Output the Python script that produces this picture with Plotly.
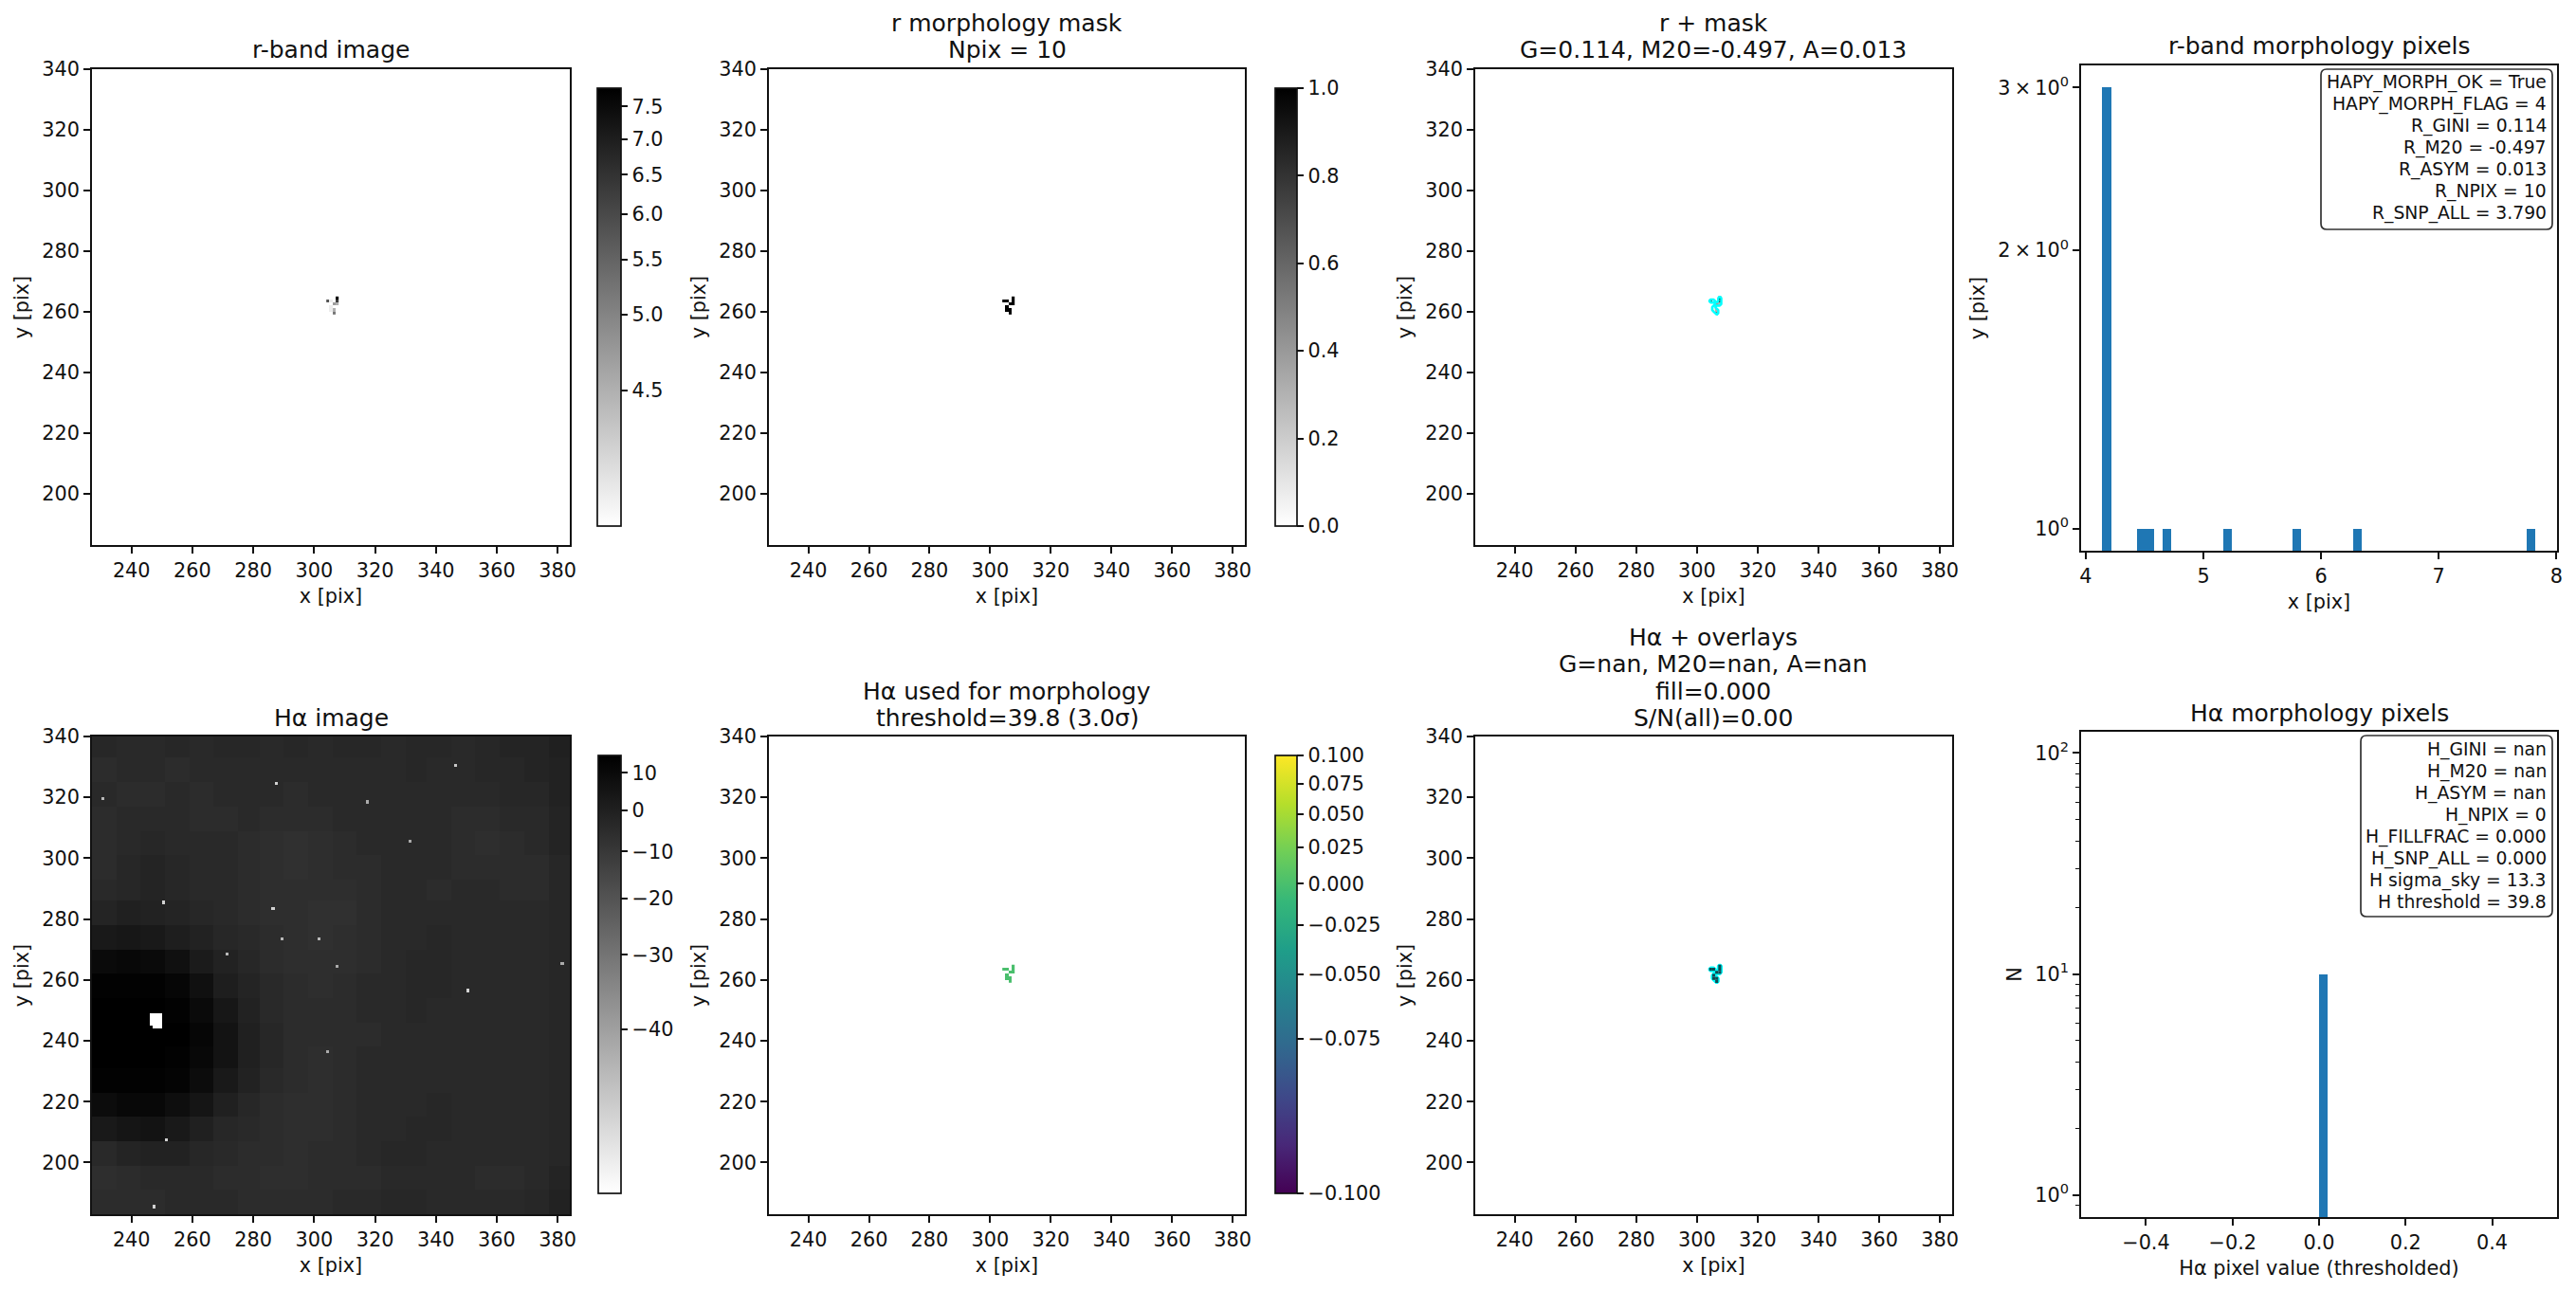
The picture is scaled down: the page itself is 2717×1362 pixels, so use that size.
import numpy as np
import plotly.graph_objects as go

W, H = 2717, 1362
FONT = "DejaVu Sans"

# morphology pixels (cell centres), rows listed top to bottom
pix_x = [304.5, 305.5, 306.5, 307.5]
pix_y = [264.5, 263.5, 262.5, 261.5, 260.5, 259.5]
r_values = [
    [None, None, None, 7.8],
    [5.8, 4.17, None, 6.3],
    [None, None, 4.7, 4.52],
    [None, 4.17, None, None],
    [None, 4.17, 4.5, None],
    [None, None, 5.2, None],
]
mask_values = [
    [None, None, None, 1],
    [1, 1, None, 1],
    [None, None, 1, 1],
    [None, 1, None, None],
    [None, 1, 1, None],
    [None, None, 1, None],
]
ha_mask_values = [[None if v is None else 0 for v in row] for row in mask_values]

# Halpha image: local mean level per 8-pixel block, top row first (the pixel noise is not readable)
ha_blocks = [
    [-3, -4, -4, -3, -4, -3, -3, -4, -3, -4, -3, -3, -4, -3, -3, -4, -3, -2, -2, 0],
    [-5, -4, -4, -5, -4, -4, -4, -4, -4, -4, -4, -4, -4, -3, -4, -4, -3, -3, -2, -1],
    [-4, -5, -5, -4, -5, -4, -4, -4, -5, -4, -4, -4, -4, -4, -4, -4, -4, -3, -3, -1],
    [-5, -4, -4, -4, -5, -5, -4, -5, -5, -5, -4, -4, -4, -4, -4, -5, -5, -4, -4, -2],
    [-5, -4, -3, -4, -4, -4, -5, -6, -7, -6, -5, -4, -4, -4, -4, -5, -6, -5, -4, -2],
    [-5, -3, -2, -3, -4, -4, -5, -6, -7, -6, -5, -5, -4, -4, -4, -5, -5, -5, -5, -3],
    [-4, -3, -2, -3, -4, -4, -5, -6, -6, -6, -6, -5, -4, -4, -5, -4, -4, -5, -5, -3],
    [-2, 0, -1, -2, -3, -4, -5, -6, -6, -7, -7, -5, -4, -4, -4, -4, -4, -4, -4, -3],
    [3, 4, 3, 1, -1, -3, -4, -5, -6, -7, -6, -5, -4, -4, -3, -4, -4, -4, -4, -3],
    [10, 11, 10, 7, 2, -1, -3, -5, -6, -6, -6, -5, -4, -3, -3, -4, -4, -4, -4, -3],
    [14, 14, 14, 12, 7, 1, -2, -4, -5, -6, -5, -4, -4, -3, -3, -4, -4, -4, -4, -3],
    [15, 15, 15, 14, 10, 4, -1, -4, -5, -5, -5, -4, -4, -3, -4, -4, -4, -4, -4, -3],
    [15, 15, 15, 15, 12, 6, 0, -3, -5, -5, -5, -5, -4, -4, -4, -4, -4, -4, -4, -3],
    [15, 15, 15, 14, 11, 6, 0, -3, -5, -6, -5, -4, -4, -4, -4, -4, -4, -4, -4, -3],
    [14, 14, 14, 13, 9, 3, -1, -4, -5, -6, -5, -4, -4, -4, -4, -4, -4, -4, -4, -3],
    [9, 11, 11, 8, 5, 0, -3, -5, -6, -6, -5, -4, -4, -4, -3, -4, -4, -4, -4, -3],
    [3, 5, 6, 3, 0, -3, -4, -5, -6, -6, -5, -4, -4, -3, -3, -4, -4, -4, -4, -3],
    [-4, -2, -1, -1, -3, -4, -5, -5, -6, -5, -5, -4, -3, -3, -4, -4, -4, -4, -4, -3],
    [-6, -5, -4, -4, -4, -5, -5, -6, -6, -5, -5, -5, -4, -4, -4, -4, -5, -5, -4, -2],
    [-5, -5, -5, -4, -4, -4, -5, -5, -5, -5, -4, -4, -3, -3, -4, -4, -4, -4, -3, -1],
]
# isolated bright pixels and the saturated core
ha_spot_x = [287, 346, 317, 230, 331, 250, 286, 289, 301, 271, 307, 381, 350, 304, 251, 247]
ha_spot_y = [324, 330, 318, 319, 305, 285, 283, 273, 273, 268, 264, 265, 256, 236, 207, 185]
ha_spot_val = [-47, -46, -42, -44, -42, -47, -47, -44, -44, -44, -42, -42, -47, -42, -47, -47]
ha_core_x = [246, 247, 248, 249]
ha_core_y = [245, 246, 247, 248]

# histograms
r_hist_x = [4.178, 4.472, 4.544, 4.69, 5.205, 5.793, 6.31, 7.785]
r_hist_n = [3, 1, 1, 1, 1, 1, 1, 1]
r_hist_w = [0.083, 0.073, 0.073, 0.073, 0.07, 0.073, 0.073, 0.071]
ha_hist_x = [0.01]
ha_hist_n = [10]
ha_hist_w = [0.02]

r_lines = ["HAPY_MORPH_OK = True", "HAPY_MORPH_FLAG = 4", "R_GINI = 0.114", "R_M20 = -0.497",
           "R_ASYM = 0.013", "R_NPIX = 10", "R_SNP_ALL = 3.790"]
ha_lines = ["H_GINI = nan", "H_M20 = nan", "H_ASYM = nan", "H_NPIX = 0", "H_FILLFRAC = 0.000",
            "H_SNP_ALL = 0.000", "H sigma_sky = 13.3", "H threshold = 39.8"]

r_cb_ticks = [4.5, 5.0, 5.5, 6.0, 6.5, 7.0, 7.5]
ha_cb_ticks = [-40, -30, -20, -10, 0, 10]
ha_used_cb_ticks = [-0.1, -0.075, -0.05, -0.025, 0.0, 0.025, 0.05, 0.075, 0.1]
mask_cb_ticks = [0.0, 0.2, 0.4, 0.6, 0.8, 1.0]

GRAY_R = [[0, "#ffffff"], [1, "#000000"]]


def stretch(v, vmin, vmax):
    # sqrt normalisation of the image panels
    return np.sqrt(np.clip((np.array(v, dtype=float) - vmin) / (vmax - vmin), 0, 1))


def ha_image():
    img = np.zeros((157, 157))
    for j in range(157):
        for i in range(157):
            img[j, i] = ha_blocks[19 - j * 20 // 157][i * 20 // 157]
    for x, y, v in zip(ha_spot_x, ha_spot_y, ha_spot_val):
        img[y - 183, x - 227] = v
    for y in ha_core_y:
        for x in ha_core_x:
            img[y - 183, x - 227] = -49
    for x in ha_core_x[1:]:
        img[244 - 183, x - 227] = -49
    return img


def padded_mask():
    z = np.zeros((8, 6))
    for r, row in enumerate(mask_values):
        for c, v in enumerate(row):
            if v:
                z[6 - r, c + 1] = 1
    return z


mask_x = [303.5] + pix_x + [308.5]
mask_y = [258.5] + pix_y[::-1] + [265.5]
on_x = [pix_x[c] for r, row in enumerate(mask_values) for c, v in enumerate(row) if v]
on_y = [pix_y[r] for r, row in enumerate(mask_values) for c, v in enumerate(row) if v]

fig = go.Figure()

# panel boxes in page pixels: left, right, top, bottom
img_cols = [(97, 601), (811, 1313), (1556, 2059)]
img_rows = [(73, 575), (777, 1281)]
hist_col = (2195, 2697)
hist_rows = [(69, 581), (772, 1284)]


def add_axes(n, box, xtitle, ytitle, **kw):
    l, r, t, b = box
    common = dict(showline=True, mirror=True, linecolor="#111111", linewidth=1.7, ticks="outside",
                  ticklen=7, tickwidth=1.7, tickcolor="#111111", showgrid=False, zeroline=False,
                  tickfont=dict(family=FONT, size=20.8, color="#111111"))
    xa = dict(common, domain=[l / W, r / W], anchor=f"y{n}",
              title=dict(text=xtitle, font=dict(family=FONT, size=20.8, color="#111111"), standoff=9))
    ya = dict(common, domain=[1 - b / H, 1 - t / H], anchor=f"x{n}",
              title=dict(text=ytitle, font=dict(family=FONT, size=20.8, color="#111111"), standoff=8))
    xa.update(kw.get("x", {}))
    ya.update(kw.get("y", {}))
    fig.update_layout({f"xaxis{n}": xa, f"yaxis{n}": ya})


def img_axes(n, box):
    add_axes(n, box, "x [pix]", "y [pix]",
             x=dict(range=[227, 384], tickvals=list(range(240, 381, 20))),
             y=dict(range=[183, 340], tickvals=list(range(200, 341, 20))))


def colorbar(box, tickvals, ticktext):
    l, r, t, b = box
    return dict(x=l / W, xanchor="left", y=1 - b / H, yanchor="bottom", len=(b - t) / H, lenmode="fraction",
                thickness=r - l, thicknessmode="pixels", outlinewidth=1.7, outlinecolor="#111111",
                xpad=0, ypad=0, ticks="outside", ticklen=7, tickwidth=1.7, tickcolor="#111111",
                tickmode="array", tickvals=list(tickvals), ticktext=ticktext,
                tickfont=dict(family=FONT, size=20.8, color="#111111"))


cb_top = (630, 655, 93, 555)
cb_bot = (631, 655, 797, 1259)
cb2_top = (1345, 1368, 93, 555)
cb2_bot = (1345, 1368, 797, 1259)

# r-band image
img_axes(1, (*img_cols[0], *img_rows[0]))
fig.add_trace(go.Heatmap(x=pix_x, y=pix_y, z=stretch(r_values, 4.15, 7.8), zmin=0, zmax=1, colorscale=GRAY_R,
                         colorbar=colorbar(cb_top, stretch(r_cb_ticks, 4.15, 7.8), [f"{t:.1f}" for t in r_cb_ticks]),
                         xaxis="x1", yaxis="y1"))

# mask
img_axes(2, (*img_cols[1], *img_rows[0]))
fig.add_trace(go.Heatmap(x=pix_x, y=pix_y, z=mask_values, zmin=0, zmax=1, colorscale=GRAY_R,
                         colorbar=colorbar(cb2_top, mask_cb_ticks, [f"{t:.1f}" for t in mask_cb_ticks]),
                         xaxis="x2", yaxis="y2"))

# r + mask
img_axes(3, (*img_cols[2], *img_rows[0]))
fig.add_trace(go.Heatmap(x=pix_x, y=pix_y, z=stretch(r_values, 4.15, 7.8), zmin=0, zmax=1, colorscale=GRAY_R,
                         showscale=False, xaxis="x3", yaxis="y3"))
fig.add_trace(go.Contour(x=mask_x, y=mask_y, z=padded_mask(), showscale=False, xaxis="x3", yaxis="y3",
                         contours=dict(coloring="lines", start=0.5, end=0.5, size=1),
                         colorscale=[[0, "#00ffff"], [1, "#00ffff"]], line=dict(width=2.5, smoothing=0)))

# r histogram
add_axes(4, (*hist_col, *hist_rows[0]), "x [pix]", "y [pix]",
         x=dict(range=[3.96, 8.006], tickvals=[4, 5, 6, 7, 8]),
         y=dict(type="log", range=[-0.024, 0.501], tickvals=[1, 2, 3],
                ticktext=["10<sup>0</sup>", "2\u2009×\u200910<sup>0</sup>", "3\u2009×\u200910<sup>0</sup>"]))
fig.add_trace(go.Bar(x=r_hist_x, y=r_hist_n, width=r_hist_w, marker=dict(color="#1f77b4", line_width=0),
                     showlegend=False, xaxis="x4", yaxis="y4"))

# Halpha image
img_axes(5, (*img_cols[0], *img_rows[1]))
fig.add_trace(go.Heatmap(x0=227.5, dx=1, y0=183.5, dy=1, z=stretch(ha_image(), -49, 15), zmin=0, zmax=1,
                         colorscale=GRAY_R, zsmooth=False,
                         colorbar=colorbar(cb_bot, stretch(ha_cb_ticks, -49, 15), [str(t).replace("-", "−") for t in ha_cb_ticks]),
                         xaxis="x5", yaxis="y5"))

# Halpha used for morphology
img_axes(6, (*img_cols[1], *img_rows[1]))
fig.add_trace(go.Heatmap(x=pix_x, y=pix_y, z=stretch(ha_mask_values, -0.1, 0.1), zmin=0, zmax=1, colorscale="Viridis",
                         colorbar=colorbar(cb2_bot, stretch(ha_used_cb_ticks, -0.1, 0.1),
                                           [f"{t:.3f}".replace("-", "−") for t in ha_used_cb_ticks]),
                         xaxis="x6", yaxis="y6"))

# Halpha + overlays: contours always sit above heatmaps, so the dark cells go on top as square markers
img_axes(7, (*img_cols[2], *img_rows[1]))
fig.add_trace(go.Contour(x=mask_x, y=mask_y, z=padded_mask(), showscale=False, xaxis="x7", yaxis="y7",
                         contours=dict(coloring="lines", start=0.5, end=0.5, size=1),
                         colorscale=[[0, "#00ffff"], [1, "#00ffff"]], line=dict(width=3, smoothing=0)))
fig.add_trace(go.Scatter(x=on_x, y=on_y, mode="markers", marker=dict(symbol="square", size=3.2, color="#0f4a52"),
                         showlegend=False, xaxis="x7", yaxis="y7"))

# Halpha histogram
add_axes(8, (*hist_col, *hist_rows[1]), "Hα pixel value (thresholded)", "N",
         x=dict(range=[-0.55, 0.55], tickvals=[-0.4, -0.2, 0.0, 0.2, 0.4],
                ticktext=["−0.4", "−0.2", "0.0", "0.2", "0.4"]),
         y=dict(type="log", range=[-0.1, 2.096], tickvals=[1, 10, 100],
                ticktext=["10<sup>0</sup>", "10<sup>1</sup>", "10<sup>2</sup>"],
                minor=dict(ticks="outside", ticklen=4, tickwidth=1.2, tickcolor="#111111",
                           tickvals=[0.9, 2, 3, 4, 5, 6, 7, 8, 9, 20, 30, 40, 50, 60, 70, 80, 90])))
fig.add_trace(go.Bar(x=ha_hist_x, y=ha_hist_n, width=ha_hist_w, marker=dict(color="#1f77b4", line_width=0),
                     showlegend=False, xaxis="x8", yaxis="y8"))

# titles: centre x of the panel, bottom edge of the last line, lines
titles = [
    (349, 68, ["r-band image"]),
    (1062, 68, ["r morphology mask", "Npix = 10"]),
    (1807, 68, ["r + mask", "G=0.114, M20=-0.497, A=0.013"]),
    (2446, 64, ["r-band morphology pixels"]),
    (349, 773, ["Hα image"]),
    (1062, 773, ["Hα used for morphology", "threshold=39.8 (3.0σ)"]),
    (1807, 773, ["Hα + overlays", "G=nan, M20=nan, A=nan", "fill=0.000", "S/N(all)=0.00"]),
    (2446, 768, ["Hα morphology pixels"]),
]
annotations = []
for cx, bottom, lines in titles:
    for k, line in enumerate(lines[::-1]):
        annotations.append(dict(text=line, x=cx / W, y=1 - (bottom - k * 28.3) / H, xref="paper", yref="paper",
                                xanchor="center", yanchor="bottom", showarrow=False,
                                font=dict(family=FONT, size=25, color="#111111"), borderpad=0))

# stat boxes
shapes = []
for lines, (l, r, t, b), first in [(r_lines, (2448, 2692, 73, 242), 87), (ha_lines, (2490, 2692, 776, 967), 790.5)]:
    rad = 6
    x0, x1 = l / W, r / W
    y0, y1 = 1 - t / H, 1 - b / H
    rx, ry = rad / W, rad / H
    path = (f"M {x0 + rx} {y0} L {x1 - rx} {y0} Q {x1} {y0} {x1} {y0 - ry} L {x1} {y1 + ry} Q {x1} {y1} {x1 - rx} {y1} "
            f"L {x0 + rx} {y1} Q {x0} {y1} {x0} {y1 + ry} L {x0} {y0 - ry} Q {x0} {y0} {x0 + rx} {y0} Z")
    shapes.append(dict(type="path", path=path, xref="paper", yref="paper", fillcolor="rgba(255,255,255,0.85)",
                       line=dict(color="#333333", width=1.7)))
    for k, line in enumerate(lines):
        annotations.append(dict(text=line, x=2687 / W, y=1 - (first + k * 23) / H, xref="paper", yref="paper",
                                xanchor="right", yanchor="middle", showarrow=False,
                                font=dict(family=FONT, size=18.75, color="#111111"), borderpad=0))

fig.update_layout(width=W, height=H, autosize=False, margin=dict(l=0, r=0, t=0, b=0), template="none",
                  paper_bgcolor="white", plot_bgcolor="white", showlegend=False, bargap=0,
                  annotations=annotations, shapes=shapes)

fig.write_html("out.html", config=dict(displayModeBar=False), post_script="document.body.style.margin='0'")
